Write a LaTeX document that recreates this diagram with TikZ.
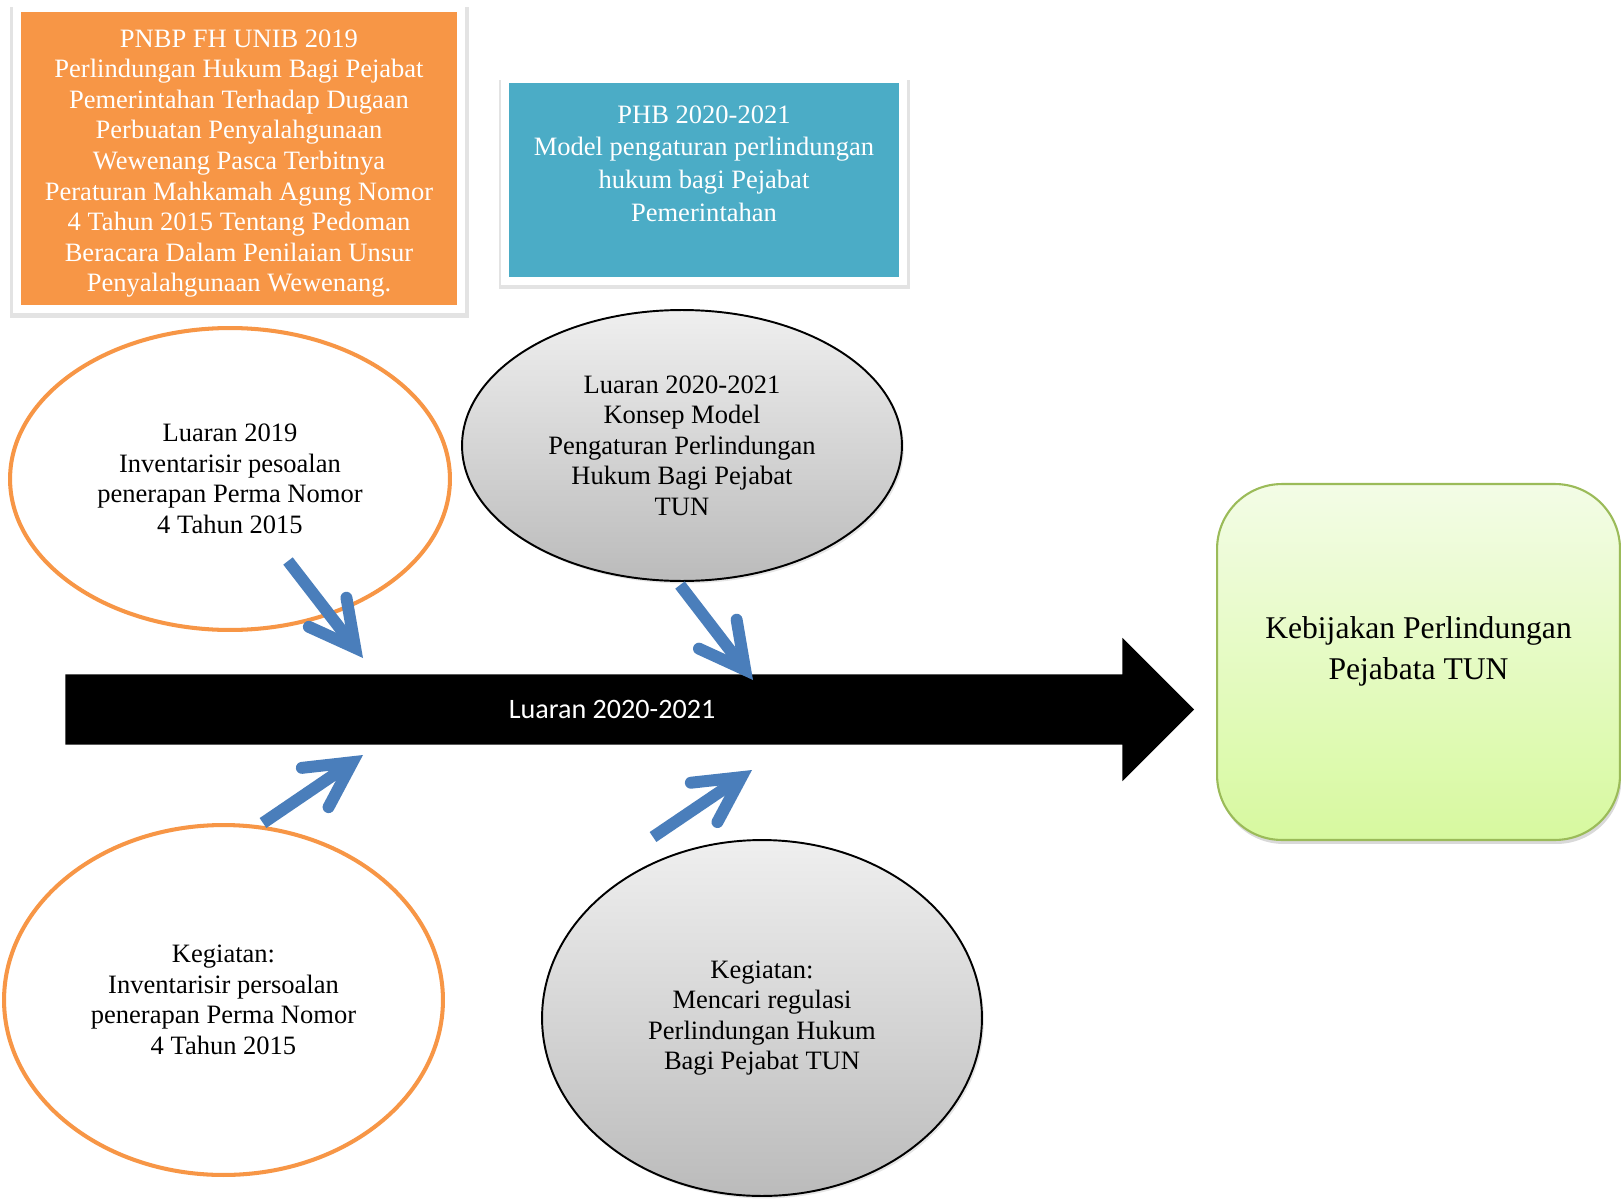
\documentclass[tikz,border=0pt]{standalone}
\usepackage{fontspec}
\setmainfont{Liberation Serif}
\newfontfamily\calibri{Carlito}
\usepackage{tikz}
\usetikzlibrary{shapes.geometric,shapes.arrows,shadows,arrows.meta}

\definecolor{pnbporange}{HTML}{F79646}
\definecolor{phbblue}{HTML}{4BACC6}
\definecolor{pointblue}{HTML}{4A7EBB}
\definecolor{kebline}{HTML}{9BBB59}
\definecolor{kebtop}{HTML}{F3FCE6}
\definecolor{kebbottom}{HTML}{D7F99F}
\definecolor{lgtop}{HTML}{EFEFEF}
\definecolor{lgbottom}{HTML}{BBBBBB}

\tikzset{
	txt/.style={font=\fontsize{15.1}{17.4}\selectfont, align=center},
	framebox/.style={txt, rectangle, draw=white, line width=4.5pt, text=white, inner sep=0pt,
		drop shadow={opacity=0.22, shadow xshift=0.01cm, shadow yshift=-0.08cm, shadow scale=1.035}},
	oval/.style={txt, ellipse, draw=pnbporange, line width=2.3pt, fill=white, inner sep=0pt},
	greyoval/.style={txt, ellipse, draw=black, line width=1.1pt, top color=lgtop, bottom color=lgbottom, inner sep=0pt,
		drop shadow={opacity=0.2, shadow xshift=0.04cm, shadow yshift=-0.05cm}},
	pointer/.style={draw=pointblue, line width=6.8pt, -{Straight Barb[length=0.9cm, width=0.95cm, line cap=round]}}
}

\begin{document}
\begin{tikzpicture}[x=0.02cm, y=-0.02cm]
	\useasboundingbox (0,0) rectangle (1621,1199);

	% Boxes
	\node[framebox, fill=pnbporange, minimum width=8.88cm, minimum height=6.02cm] (pnbp) at (239,158.5)
		{\rule{0pt}{15.7pt}PNBP FH UNIB 2019\\Perlindungan Hukum Bagi Pejabat\\Pemerintahan Terhadap Dugaan\\Perbuatan Penyalahgunaan\\Wewenang Pasca Terbitnya\\Peraturan Mahkamah Agung Nomor\\4 Tahun 2015 Tentang Pedoman\\Beracara Dalam Penilaian Unsur\\Penyalahgunaan Wewenang.};
	\node[framebox, fill=phbblue, minimum width=7.96cm, minimum height=4.04cm,
		font=\fontsize{15.1}{18.7}\selectfont] (phb) at (704,180)
		{PHB 2020-2021\\Model pengaturan perlindungan\\hukum bagi Pejabat\\Pemerintahan\\\mbox{}};

	% Ovals
	\node[oval, minimum width=8.8cm, minimum height=6.04cm] (luaran2019) at (230,479)
		{Luaran 2019\\Inventarisir pesoalan\\penerapan Perma Nomor\\4 Tahun 2015};
	\node[greyoval, minimum width=8.8cm, minimum height=5.42cm] (luaran2021) at (682,445.5)
		{Luaran 2020-2021\\Konsep Model\\Pengaturan Perlindungan\\Hukum Bagi Pejabat\\TUN};
	\node[oval, minimum width=8.78cm, minimum height=7.0cm] (kegiatan2019) at (223.5,1000)
		{Kegiatan:\\Inventarisir persoalan\\penerapan Perma Nomor\\4 Tahun 2015};
	\node[greyoval, minimum width=8.8cm, minimum height=7.12cm] (kegiatan2021) at (762,1018)
		{Kegiatan:\\Mencari regulasi\\Perlindungan Hukum\\Bagi Pejabat TUN};

	% Main arrow and result
	\node[single arrow, anchor=tail, fill=black, text=white, font=\calibri\fontsize{16}{19}\selectfont,
		minimum height=22.58cm, minimum width=2.86cm, single arrow head extend=0.73cm,
		single arrow tip angle=90, inner xsep=2pt, inner ysep=14.6pt] (luaran) at (65,709.5) {Luaran 2020-2021};
	\node[rectangle, rounded corners=1.3cm, draw=kebline, line width=1.2pt, top color=kebtop, bottom color=kebbottom,
		minimum width=8.06cm, minimum height=7.12cm, align=center, font=\fontsize{18}{23.2}\selectfont,
		drop shadow={opacity=0.3, shadow xshift=0.03cm, shadow yshift=-0.08cm}] (kebijakan) at (1418.5,662)
		{Kebijakan Perlindungan\\Pejabata TUN\\[-7pt]\mbox{}};

	% Pointers
	\coordinate (p1s) at (288,561);  \coordinate (p1t) at (363,658);
	\coordinate (p2s) at (680,585);  \coordinate (p2t) at (753,680);
	\coordinate (p3s) at (263,823);  \coordinate (p3t) at (363,755);
	\coordinate (p4s) at (653,837);  \coordinate (p4t) at (752,770);
	\foreach \i in {1,2,3,4} {
		\draw[pointer] (p\i s) -- (p\i t);
	}
\end{tikzpicture}
\end{document}
